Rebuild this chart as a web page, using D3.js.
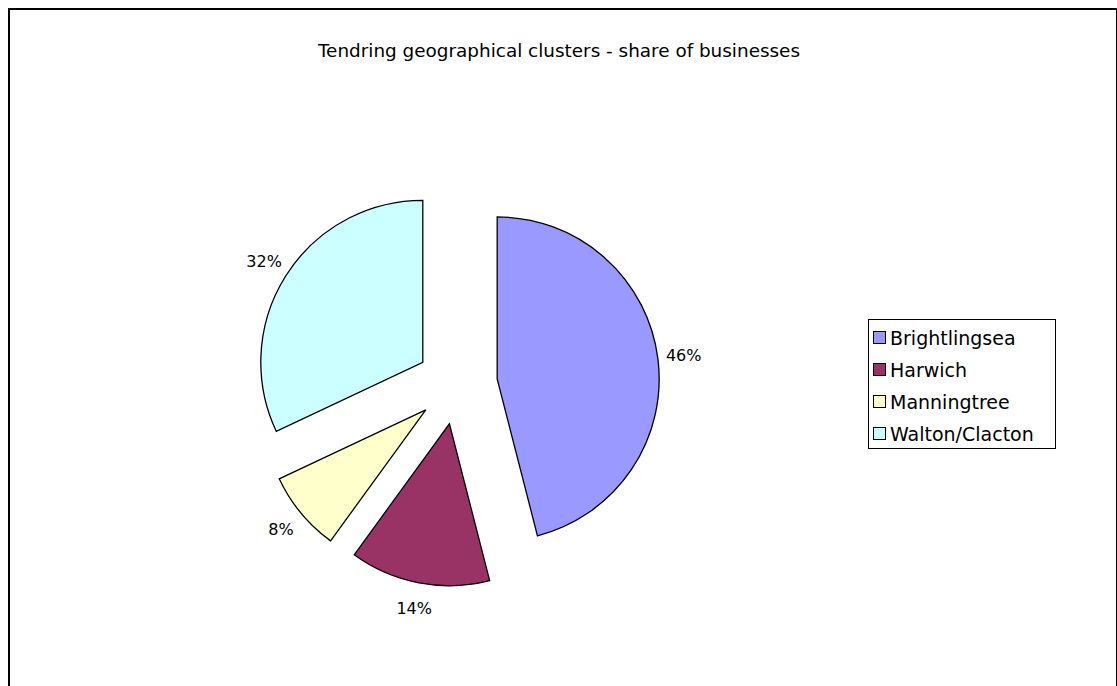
<!DOCTYPE html>
<html>
<head>
<meta charset="utf-8">
<script src="https://cdn.jsdelivr.net/npm/d3@7"></script>
<style>
  html, body { margin: 0; padding: 0; background: #fff; }
  svg { display: block; }
  text { font-family: "DejaVu Sans", Verdana, sans-serif; fill: #000; }
</style>
</head>
<body>
<svg id="chart" width="1117" height="686"></svg>
<script>
// Share of businesses by geographical cluster
const categories = ["Brightlingsea", "Harwich", "Manningtree", "Walton/Clacton"];
const shares = [46, 14, 8, 32];
const colors = ["#9999FF", "#993366", "#FFFFCC", "#CCFFFF"];
const title = "Tendring geographical clusters - share of businesses";

const svg = d3.select("#chart");

// chart frame (bottom edge runs past the visible area)
svg.append("rect")
  .attr("x", 9).attr("y", 9)
  .attr("width", 1108).attr("height", 700)
  .attr("fill", "#fff").attr("stroke", "#000").attr("stroke-width", 2);

svg.append("text")
  .attr("x", 559).attr("y", 57)
  .attr("text-anchor", "middle")
  .style("font-size", "18.4px")
  .text(title);

// pie
const cx = 457, cy = 384;
const radius = 162, explode = 40.5, labelR = 188;

const pie = d3.pie().sort(null).value(d => d);
const arcs = pie(shares);
const arc = d3.arc().innerRadius(0).outerRadius(radius);

const g = svg.append("g").attr("transform", `translate(${cx},${cy})`);

const slice = g.selectAll("g.slice").data(arcs).enter().append("g")
  .attr("class", "slice")
  .attr("transform", d => {
    const a = (d.startAngle + d.endAngle) / 2;
    return `translate(${explode * Math.sin(a)},${-explode * Math.cos(a)})`;
  });

slice.append("path")
  .attr("d", arc)
  .attr("fill", (d, i) => colors[i])
  .attr("stroke", "#000")
  .attr("stroke-width", 1.3)
  .attr("stroke-linejoin", "miter");

slice.append("text")
  .attr("x", d => labelR * Math.sin((d.startAngle + d.endAngle) / 2))
  .attr("y", d => -labelR * Math.cos((d.startAngle + d.endAngle) / 2))
  .attr("text-anchor", "middle")
  .attr("dominant-baseline", "central")
  .style("font-size", "16px")
  .text(d => d.data + "%");

// legend
const lg = svg.append("g").attr("transform", "translate(868,319)");
lg.append("rect")
  .attr("x", 0.5).attr("y", 0.5)
  .attr("width", 187).attr("height", 129)
  .attr("fill", "#fff").attr("stroke", "#000").attr("stroke-width", 1);

const rowY = d3.scalePoint().domain(categories).range([18.5, 114.5]);
const item = lg.selectAll("g.item").data(categories).enter().append("g")
  .attr("class", "item")
  .attr("transform", d => `translate(0,${rowY(d)})`);
item.append("rect")
  .attr("x", 5.5).attr("y", -6)
  .attr("width", 12).attr("height", 12)
  .attr("fill", (d, i) => colors[i])
  .attr("stroke", "#000").attr("stroke-width", 1);
item.append("text")
  .attr("x", 22).attr("y", 0.5)
  .attr("dominant-baseline", "central")
  .style("font-size", "19px")
  .text(d => d);
</script>
</body>
</html>
